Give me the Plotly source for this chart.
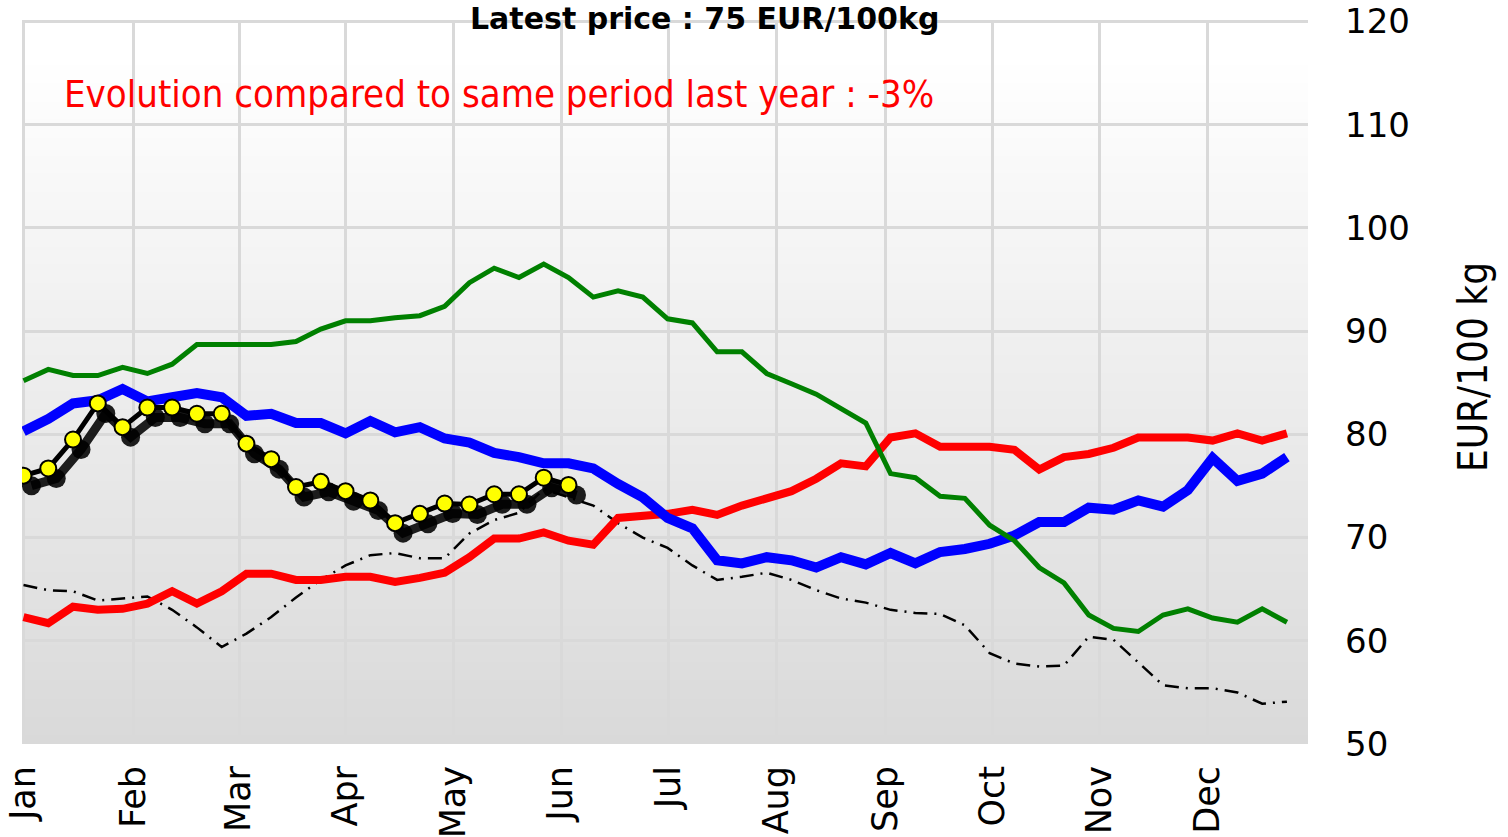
import plotly.graph_objects as go

# ---------------- data (weekly prices, EUR/100 kg) ----------------
weeks = list(range(52))
months = ["Jan", "Feb", "Mar", "Apr", "May", "Jun", "Jul", "Aug", "Sep", "Oct", "Nov", "Dec"]
month_pos = [0, 4.43, 8.7, 13.0, 17.35, 21.7, 26.05, 30.4, 34.8, 39.1, 43.45, 47.8]

green = [85.2, 86.3, 85.7, 85.7, 86.5, 85.9, 86.8, 88.7, 88.7, 88.7, 88.7, 89.0, 90.2,
         91.0, 91.0, 91.3, 91.5, 92.4, 94.7, 96.1, 95.2, 96.5, 95.2, 93.3, 93.9, 93.3,
         91.2, 90.8, 88.0, 88.0, 85.9, 84.9, 83.9, 82.5, 81.1, 76.2, 75.8, 74.0, 73.8,
         71.2, 69.7, 67.1, 65.6, 62.5, 61.2, 60.9, 62.5, 63.1, 62.2, 61.8, 63.1, 61.8]

blue = [80.3, 81.5, 83.0, 83.3, 84.4, 83.2, 83.6, 84.0, 83.6, 81.8, 82.0, 81.1, 81.1,
        80.1, 81.3, 80.2, 80.7, 79.6, 79.2, 78.2, 77.8, 77.2, 77.2, 76.7, 75.2, 73.9,
        71.9, 70.9, 67.8, 67.5, 68.1, 67.8, 67.1, 68.1, 67.4, 68.5, 67.5, 68.6, 68.9,
        69.4, 70.2, 71.5, 71.5, 72.9, 72.7, 73.6, 73.0, 74.6, 77.7, 75.5, 76.2, 77.8]

red = [62.3, 61.7, 63.3, 63.0, 63.1, 63.6, 64.8, 63.6, 64.8, 66.5, 66.5, 65.9, 65.9,
       66.2, 66.2, 65.7, 66.1, 66.6, 68.1, 69.9, 69.9, 70.5, 69.7, 69.3, 71.9, 72.1,
       72.3, 72.7, 72.2, 73.1, 73.9, 74.5, 75.7, 77.2, 76.9, 79.7, 80.1, 78.8, 78.8,
       78.8, 78.5, 76.6, 77.8, 78.1, 78.7, 79.7, 79.7, 79.7, 79.4, 80.1, 79.4, 80.1]

dashdot = [65.4, 64.9, 64.8, 63.9, 64.1, 64.3, 63.0, 61.3, 59.4, 60.7, 62.3, 64.2, 65.9,
           67.3, 68.3, 68.5, 68.0, 68.0, 70.4, 71.7, 72.4, 74.7, 73.9, 73.1, 71.4, 70.0,
           69.0, 67.3, 65.9, 66.2, 66.6, 65.9, 64.9, 64.1, 63.7, 63.0, 62.7, 62.6, 61.5,
           58.8, 57.8, 57.5, 57.6, 60.4, 60.1, 57.9, 55.7, 55.4, 55.4, 55.0, 53.9, 54.1]

current = [76.0, 76.7, 79.5, 83.0, 80.7, 82.6, 82.6, 82.0, 82.0, 79.1, 77.6, 74.9,
           75.4, 74.5, 73.6, 71.4, 72.3, 73.3, 73.2, 74.2, 74.2, 75.8, 75.1]

y_ticks = [50, 60, 70, 80, 90, 100, 110, 120]

title_text = "Latest price : 75 EUR/100kg"
evolution_text = "Evolution compared to same period last year : -3%"
y_title = "EUR/100 kg"

# ---------------- layout geometry ----------------
W, H = 1508, 837
L, T = 22, 20
pw, ph = 1286, 724
R, B = W - L - pw, H - T - ph
xr = [-0.06, 51.85]
yr = [50, 120.15]
ppx = pw / (xr[1] - xr[0])
ppy = ph / (yr[1] - yr[0])
sdx, sdy = 8, 10  # shadow offset in pixels
xr2 = [xr[0] - sdx / ppx, xr[1] - sdx / ppx]
yr2 = [yr[0] + sdy / ppy, yr[1] + sdy / ppy]

fig = go.Figure()

fig.add_trace(go.Scatter(x=weeks, y=dashdot, mode="lines",
                         line=dict(color="black", width=2.5, dash="14px,7px,2px,7px")))
fig.add_trace(go.Scatter(x=weeks, y=red, mode="lines", line=dict(color="#ff0000", width=8)))
fig.add_trace(go.Scatter(x=weeks, y=blue, mode="lines", line=dict(color="#0000ff", width=10)))
fig.add_trace(go.Scatter(x=weeks, y=green, mode="lines", line=dict(color="#008000", width=5)))

cw = weeks[:len(current)]
# shadow of the current-year series (overlay axes with shifted ranges)
fig.add_trace(go.Scatter(x=cw, y=current, mode="lines+markers", xaxis="x2", yaxis="y2",
                         line=dict(color="rgba(0,0,0,0.88)", width=9),
                         marker=dict(size=19, color="rgba(0,0,0,0.88)", line=dict(width=0))))
# current year
fig.add_trace(go.Scatter(x=cw, y=current, mode="lines+markers", xaxis="x3", yaxis="y3",
                         line=dict(color="black", width=5),
                         marker=dict(size=16, color="#ffff00", line=dict(color="black", width=2))))

# gradient background
shapes = []
n = 80
for i in range(n):
    f0, f1 = i / n, (i + 1) / n
    mid = (f0 + f1) / 2
    g = int(round(217 + (255 - 217) * min(1.0, mid * 1.05)))
    shapes.append(dict(type="rect", xref="paper", yref="paper", x0=0, x1=1, y0=f0, y1=f1 + 0.002,
                       fillcolor=f"rgb({g},{g},{g})", line=dict(width=0), layer="below"))

font_main = "DejaVu Sans, Verdana, sans-serif"
font_cond = "DejaVu Sans Condensed, Liberation Sans Narrow, sans-serif"

fig.update_layout(
    width=W, height=H,
    margin=dict(l=L, r=R, t=T, b=B, autoexpand=False),
    paper_bgcolor="white", plot_bgcolor="rgba(0,0,0,0)",
    showlegend=False,
    hovermode=False,
    shapes=shapes,
    xaxis=dict(range=xr, tickmode="array", tickvals=month_pos, ticktext=months,
               tickangle=-90, tickfont=dict(family=font_main, size=35, color="black"),
               showgrid=True, gridcolor="#d9d9d9", gridwidth=3, zeroline=False,
               showline=False, ticks="", ticklabelstandoff=14, automargin=False,
               ticklabeloverflow="allow"),
    yaxis=dict(range=yr, tickmode="array", tickvals=y_ticks,
               side="right",
               tickfont=dict(family=font_main, size=34, color="black"),
               showgrid=True, gridcolor="#d9d9d9", gridwidth=3, zeroline=False,
               showline=False, ticks="", ticklabelstandoff=36, automargin=False,
               ticklabeloverflow="allow"),
    xaxis2=dict(range=xr2, overlaying="x", visible=False, showgrid=False),
    yaxis2=dict(range=yr2, overlaying="y", visible=False, showgrid=False),
    xaxis3=dict(range=xr, overlaying="x", visible=False, showgrid=False),
    yaxis3=dict(range=yr, overlaying="y", visible=False, showgrid=False),
    annotations=[
        dict(text=title_text, xref="paper", yref="paper", x=(704 - L) / pw, y=1,
             yanchor="top", xanchor="center", yshift=T, showarrow=False, borderpad=0,
             font=dict(family=font_main, size=30, color="black", weight="bold")),
        dict(text=evolution_text, xref="paper", yref="paper", x=40 / pw, y=(724 - 74) / ph,
             xanchor="left", yanchor="middle", showarrow=False,
             font=dict(family=font_cond, size=38, color="#ff0000")),
        dict(text=y_title, xref="paper", yref="paper", x=(1473 - L) / pw, y=(724 - 347) / ph,
             xanchor="center", yanchor="middle", textangle=-90, showarrow=False,
             font=dict(family=font_cond, size=40, color="black")),
    ],
)

fig.write_html("out.html", config={"displayModeBar": False, "staticPlot": True},
               post_script="document.body.style.margin='0';document.body.style.overflow='hidden';")
